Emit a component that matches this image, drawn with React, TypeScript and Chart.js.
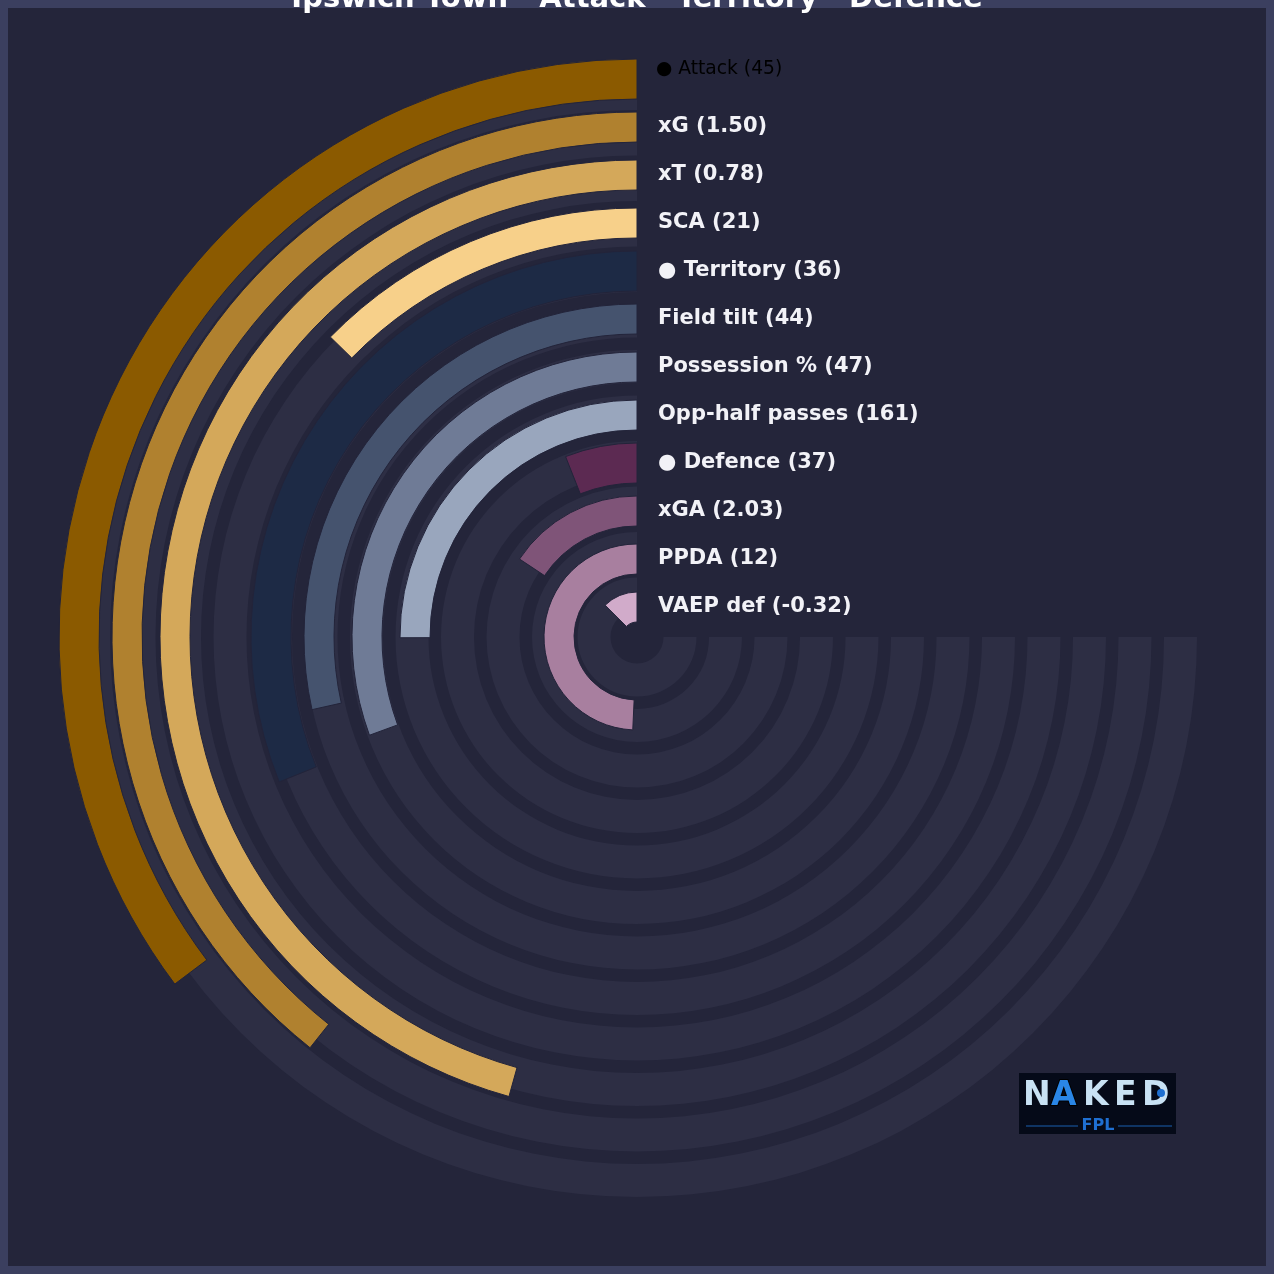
import React, { useEffect, useRef } from 'react';
import { Chart, registerables } from 'chart.js';

Chart.register(...registerables);

// ---- data ----
const titleParts = ['Ipswich Town', 'Attack', 'Territory', 'Defence'];
const metricLabels = ['Attack', 'xG', 'xT', 'SCA', 'Territory', 'Field tilt', 'Possession %', 'Opp-half passes', 'Defence', 'xGA', 'PPDA', 'VAEP def'];
const rawValues = ['45', '1.50', '0.78', '21', '36', '44', '47', '161', '37', '2.03', '12', '-0.32'];
const isGroup = [true, false, false, false, true, false, false, false, true, false, false, false];
const percentiles = [47, 52.4, 60.9, 16.9, 41.5, 38, 40.8, 33.4, 8, 20.9, 65.7, 16.7];
const barColors = ['#8b5a00', '#b0812f', '#d4a85a', '#f7d08a', '#1d2a45', '#45536e', '#6f7b96', '#99a6bd', '#5c2a52', '#7f5478', '#a87f9f', '#d1abca'];

const FRAME = '#3b3f5f';
const BG = '#24253a';
const TRACK = '#2d2e44';
const CLEAR = 'rgba(0,0,0,0)';
const SIZE = 1274;

export default function App() {
  const trackRef = useRef<HTMLCanvasElement>(null);
  const barRef = useRef<HTMLCanvasElement>(null);

  useEffect(() => {
    const base: any = {
      responsive: false,
      animation: false,
      events: [],
      rotation: 90,
      circumference: 270,
      layout: { padding: 0 },
      plugins: { legend: { display: false }, tooltip: { enabled: false }, title: { display: false } },
    };

    // tracks
    const trackDatasets: any[] = [];
    metricLabels.forEach((_, i) => {
      if (i > 0) trackDatasets.push({ data: [1], backgroundColor: [CLEAR], borderWidth: 0, weight: 12.5 });
      trackDatasets.push({ data: [1], backgroundColor: [TRACK], borderWidth: 0, weight: 33 });
    });
    const bgPlugin = {
      id: 'bgFrame',
      beforeDraw(chart: any) {
        const ctx = chart.ctx;
        ctx.save();
        ctx.fillStyle = FRAME;
        ctx.fillRect(0, 0, chart.width, chart.height);
        ctx.fillStyle = BG;
        ctx.fillRect(8, 8, chart.width - 16, chart.height - 16);
        ctx.restore();
      },
    };
    const trackChart = new Chart(trackRef.current!, {
      type: 'doughnut',
      data: { labels: ['track'], datasets: trackDatasets },
      options: { ...base, radius: 560, cutout: (26.5 / 560 * 100) + '%' },
      plugins: [bgPlugin],
    } as any);

    // bars
    const barDatasets: any[] = [];
    const barIndex: number[] = [];
    metricLabels.forEach((_, i) => {
      if (i > 0) {
        const gap = isGroup[i] || isGroup[i - 1] ? 13 : 18;
        barDatasets.push({ data: [1], backgroundColor: [CLEAR], borderWidth: 0, weight: gap });
      }
      barIndex.push(barDatasets.length);
      barDatasets.push({
        data: [100 - percentiles[i], percentiles[i]],
        backgroundColor: [CLEAR, barColors[i]],
        borderColor: ['rgba(0,0,0,0)', '#23243a'],
        borderWidth: [0, 1],
        weight: isGroup[i] ? 40 : 30,
      });
    });
    const totalW = barDatasets.reduce((s, d) => s + d.weight, 0);
    const outerR = 578;

    const textPlugin = {
      id: 'texts',
      afterDraw(chart: any) {
        const ctx = chart.ctx;
        ctx.save();
        // labels
        barIndex.forEach((di, i) => {
          const arc: any = chart.getDatasetMeta(di).data[1];
          const mid = (arc.innerRadius + arc.outerRadius) / 2;
          const label = (isGroup[i] ? '● ' : '') + metricLabels[i] + ' (' + rawValues[i] + ')';
          ctx.textBaseline = 'middle';
          ctx.textAlign = 'left';
          if (i === 0) {
            ctx.font = '18.7px "DejaVu Sans"';
            ctx.fillStyle = '#000000';
            ctx.fillText(label, arc.x + 19, arc.y - mid - 10);
          } else {
            ctx.font = 'bold 21px "DejaVu Sans"';
            ctx.fillStyle = '#f2f2f7';
            ctx.fillText(label, arc.x + 21, arc.y - mid);
          }
        });

        // title
        ctx.font = 'bold 29px "DejaVu Sans"';
        ctx.textBaseline = 'alphabetic';
        const sep = ' · ';
        let total = 0;
        titleParts.forEach((p, i) => {
          total += ctx.measureText(p).width;
          if (i < titleParts.length - 1) total += ctx.measureText(sep).width;
        });
        let x = chart.width / 2 - total / 2;
        const ty = 7;
        titleParts.forEach((p, i) => {
          ctx.fillStyle = '#ffffff';
          ctx.fillText(p, x, ty);
          x += ctx.measureText(p).width;
          if (i < titleParts.length - 1) {
            ctx.fillStyle = '#8c90aa';
            ctx.fillText(sep, x, ty);
            x += ctx.measureText(sep).width;
          }
        });

        // logo
        const lx = 1019, ly = 1073, lw = 157, lh = 61;
        ctx.fillStyle = '#050a18';
        ctx.fillRect(lx, ly, lw, lh);
        ctx.font = 'bold 33px "DejaVu Sans"';
        ctx.textBaseline = 'alphabetic';
        ctx.textAlign = 'left';
        const letters = ['N', 'A', 'K', 'E', 'D'];
        const lxs = [1023, 1051, 1083, 1114, 1142];
        letters.forEach((l, k) => {
          if (l === 'A') {
            ctx.fillStyle = '#2a86e6';
            ctx.strokeStyle = '#000000';
            ctx.lineWidth = 2;
            ctx.strokeText(l, lxs[k], 1105);
            ctx.fillText(l, lxs[k], 1105);
          } else {
            ctx.fillStyle = '#c8e2f4';
            ctx.fillText(l, lxs[k], 1105);
          }
        });
        ctx.beginPath();
        ctx.arc(1161, 1093, 4, 0, Math.PI * 2);
        ctx.fillStyle = '#1e6fd0';
        ctx.fill();
        ctx.strokeStyle = '#1b5fae';
        ctx.lineWidth = 1;
        ctx.beginPath();
        ctx.moveTo(1026, 1126); ctx.lineTo(1078, 1126);
        ctx.moveTo(1118, 1126); ctx.lineTo(1172, 1126);
        ctx.stroke();
        ctx.font = 'bold 16px "DejaVu Sans"';
        ctx.fillStyle = '#1f6fd1';
        ctx.textAlign = 'center';
        ctx.textBaseline = 'middle';
        ctx.fillText('FPL', 1098, 1126);
        ctx.restore();
      },
    };

    const barChart = new Chart(barRef.current!, {
      type: 'doughnut',
      data: { labels: ['rest', 'value'], datasets: barDatasets },
      options: { ...base, radius: outerR, cutout: ((outerR - totalW) / outerR * 100) + '%' },
      plugins: [textPlugin],
    } as any);

    return () => {
      trackChart.destroy();
      barChart.destroy();
    };
  }, []);

  return (
    <div style={{ position: 'fixed', left: 0, top: 0, width: SIZE, height: SIZE, background: FRAME }}>
      <canvas ref={trackRef} width={SIZE} height={SIZE} style={{ position: 'absolute', left: 0, top: 0, width: SIZE, height: SIZE }} />
      <canvas ref={barRef} width={SIZE} height={SIZE} style={{ position: 'absolute', left: 0, top: 0, width: SIZE, height: SIZE }} />
    </div>
  );
}
